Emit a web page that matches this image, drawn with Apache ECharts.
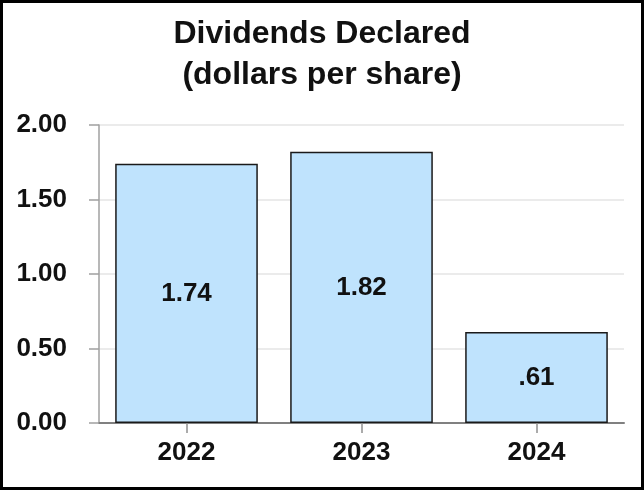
<!DOCTYPE html>
<html>
<head>
<meta charset="utf-8">
<script src="https://cdn.jsdelivr.net/npm/echarts@6/dist/echarts.min.js"></script>
<style>
html,body{margin:0;padding:0;background:#fff;}
#c{width:644px;height:490px;}
</style>
</head>
<body>
<div id="c"></div>
<script>
const categories = ['2022', '2023', '2024'];
const dividends = [1.74, 1.82, 0.61];
const barLabels = ['1.74', '1.82', '.61'];
const yTickLabels = ['0.00', '0.50', '1.00', '1.50', '2.00'];

const chart = echarts.init(document.getElementById('c'), null, {renderer: 'canvas'});
const FONT = '"Liberation Sans", Arial, sans-serif';
chart.setOption({
  animation: false,
  backgroundColor: '#fff',
  title: {
    text: 'Dividends Declared\n(dollars per share)',
    left: 'center',
    top: 9,
    textStyle: {fontFamily: FONT, fontWeight: 'bold', fontSize: 32, lineHeight: 41, color: '#111'}
  },
  graphic: [{
    type: 'rect', z: 100,
    shape: {x: 1.5, y: 1.5, width: 641, height: 487},
    style: {fill: null, stroke: '#000', lineWidth: 3}
  }],
  grid: {left: 99, right: 20, top: 125, bottom: 67, containLabel: false},
  xAxis: {
    type: 'category',
    data: categories,
    axisLine: {show: true, lineStyle: {color: '#808080', width: 2}},
    axisTick: {show: true, alignWithLabel: true, length: 10, lineStyle: {color: '#909090', width: 1.5}},
    axisLabel: {fontFamily: FONT, fontWeight: 'bold', fontSize: 26, color: '#111', margin: 17}
  },
  yAxis: {
    type: 'value',
    min: 0, max: 2, interval: 0.5,
    axisLine: {show: true, lineStyle: {color: '#a0a0a0', width: 1.5}},
    axisTick: {show: true, length: 10, lineStyle: {color: '#a0a0a0', width: 1.5}},
    splitLine: {show: true, lineStyle: {color: '#e4e4e4', width: 1.5}},
    axisLabel: {
      fontFamily: FONT, fontWeight: 'bold', fontSize: 26, color: '#111', margin: 32,
      formatter: function (v) { return yTickLabels[Math.round(v / 0.5)]; }
    }
  },
  series: [{
    type: 'bar',
    data: dividends,
    barWidth: '81.5%',
    itemStyle: {color: '#bfe3fd', borderColor: '#1a1a1a', borderWidth: 1.5},
    label: {
      show: true, position: 'inside',
      fontFamily: FONT, fontWeight: 'bold', fontSize: 26, color: '#111',
      formatter: function (p) { return barLabels[p.dataIndex]; }
    }
  }]
});
</script>
</body>
</html>
